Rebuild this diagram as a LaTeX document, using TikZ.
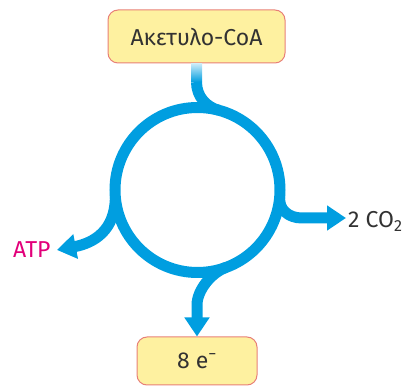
\documentclass[tikz,border=0pt]{standalone}
\usepackage{fontspec}
\setmainfont{Fira Sans}
\usetikzlibrary{arrows.meta}
\definecolor{cycblue}{RGB}{0,158,224}
\definecolor{boxfill}{RGB}{254,241,160}
\definecolor{boxline}{RGB}{232,128,120}
\definecolor{txt}{RGB}{50,50,50}
\definecolor{atpcol}{RGB}{226,0,122}
\begin{document}
\begin{tikzpicture}[x=1pt,y=-1pt,
  box/.style={draw=boxline, fill=boxfill, line width=1pt, rounded corners=10pt,
    text=txt, font=\fontsize{23}{26}\selectfont},
  flow/.style={draw=cycblue, line width=11pt},
  flowarr/.style={flow, -{Triangle[width=24pt,length=19pt]}},
  lbl/.style={font=\fontsize{23}{26}\selectfont, inner sep=0pt}]
\useasboundingbox (0,0) rectangle (416,387);
% boxes
\node[box, minimum width=177pt, minimum height=53pt] (acoa) at (196.5,36.5) {Ακετυλο-CoA};
\node[box, minimum width=120pt, minimum height=48pt] (e8) at (197,361) {8 e\textsuperscript{−}\hspace{6pt}};
% cycle
\node[circle, draw=cycblue, line width=11pt, minimum size=165pt, inner sep=0pt, outer sep=0pt] (cyc) at (197.5,190) {};
% labels
\node[lbl, text=txt, anchor=base west] (co2) at (348,227.5) {2 CO\textsubscript{2}};
\node[lbl, text=atpcol, anchor=base west] (atp) at (13,258) {ATP};
% helper coordinates
\coordinate (topj) at (196.5,82);
\coordinate (rj) at (302,218);
\coordinate (co2tip) at (346,218);
\coordinate (atptip) at (57,250);
\coordinate (bj) at (197,305);
% top connector (fading)
\shade[top color=cycblue!20!white, bottom color=cycblue]
  ([xshift=-5.5pt]acoa.south) rectangle ([xshift=5.5pt]topj);
\draw[flow] (topj) .. controls +(0,15) and +(-12,-3.2) .. (cyc.75);
% right branch
\draw[flowarr] (cyc.-5) .. controls +(-1,12) and +(-14,0) .. (rj) -- (co2tip);
% left branch
\draw[flowarr] (cyc.185) .. controls +(0,33) and +(37,-7) .. (atptip);
% bottom branch
\draw[flowarr] (cyc.-70) .. controls +(-14,5) and +(0,-15) .. (bj) -- (e8.north);
\end{tikzpicture}
\end{document}
